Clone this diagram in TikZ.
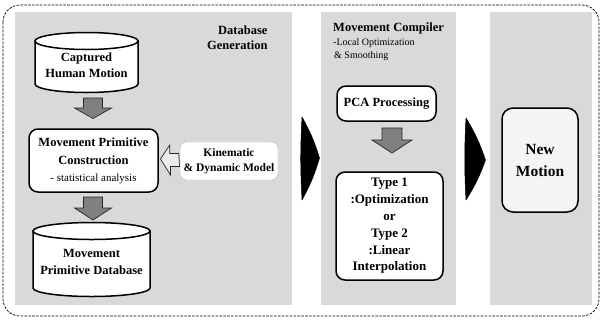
\documentclass[tikz,border=0pt]{standalone}
\usepackage{fontspec}
\setmainfont{Liberation Serif}
\usetikzlibrary{calc}
\tikzset{
  panel/.style={fill=black!15, draw=none},
  rbox/.style={draw=black, line width=1.5pt, rounded corners=9pt, fill=white, align=center, inner sep=2pt,
     font=\bfseries\fontsize{12.5}{16.5}\selectfont},
  cylbody/.style={draw=black, line width=1.5pt, fill=white},
  cyltext/.style={align=center, font=\bfseries\fontsize{12.5}{16.5}\selectfont},
  graybk/.style={fill=black!50, draw=black!85, line width=0.7pt},
  lightbk/.style={fill=black!8, draw=black!85, line width=0.7pt},
  blackbk/.style={fill=black, draw=black, line width=0.5pt, line join=round},
  title/.style={font=\bfseries\fontsize{12.5}{15.5}\selectfont},
  sub/.style={font=\fontsize{10}{13.5}\selectfont},
  outer/.style={draw=black, line width=0.7pt, dash pattern=on 2.6pt off 1.3pt, rounded corners=17pt}
}
\begin{document}
\begin{tikzpicture}[x=1pt,y=1pt]
\useasboundingbox (0,0) rectangle (602,-322);
% outer dashed frame
\draw[outer] (3,-5) rectangle (599,-316);
% panels
\fill[panel] (15,-12) rectangle (292,-305);
\fill[panel] (321,-12) rectangle (456,-305);
\fill[panel] (490,-12) rectangle (592,-305);

% Captured Human Motion cylinder
\path[cylbody] (35,-41) -- (35,-84) arc[start angle=180,end angle=360,x radius=51.5pt,y radius=8.5pt] -- (138,-41) -- cycle;
\draw[cylbody] (86.5,-41) ellipse[x radius=51.5pt,y radius=8.5pt];
\node[cyltext] (cap) at (86.5,-65) {Captured\\Human Motion};

% Movement primitive construction
\node[rbox, minimum width=129pt, minimum height=63pt] (mpc) at (93.5,-160.5) {};
\node[align=center, anchor=north, inner sep=0pt, font=\bfseries\fontsize{12.5}{18}\selectfont] (mpct) at (93.5,-137.5)
 {Movement Primitive\\Construction\\[-1pt]{\mdseries\fontsize{11}{14}\selectfont - statistical analysis}};

% Kinematic & Dynamic model
\node[fill=white, draw=black!25, line width=0.4pt, rounded corners=7pt, minimum width=98pt, minimum height=38pt,
      align=center, font=\bfseries\fontsize{11.5}{15}\selectfont] (kin) at (229,-161) {Kinematic\\\& Dynamic Model};

% Database cylinder
\path[cylbody] (33,-231) -- (33,-288) arc[start angle=180,end angle=360,x radius=58.5pt,y radius=8.5pt] -- (150,-231) -- cycle;
\draw[cylbody] (91.5,-231) ellipse[x radius=58.5pt,y radius=8.5pt];
\node[cyltext] (db) at (91.5,-262) {Movement\\Primitive Database};

% titles
\node[title, align=right, anchor=north east] (dbg) at (271,-22) {Database\\Generation};
\node[title, anchor=north west, inner sep=0pt] (mc) at (333,-23) {Movement Compiler};
\node[sub, anchor=north west, align=left, inner sep=0pt] (mcs) at (333,-38) {-Local Optimization\\\hspace{1pt}\& Smoothing};

% PCA and Type boxes
\node[rbox, minimum width=99pt, minimum height=35pt] (pca) at (386.5,-103.5) {PCA Processing};
\node[rbox, minimum width=107pt, minimum height=108pt, font=\bfseries\fontsize{13}{16.8}\selectfont] (typ) at (389.5,-226)
  {Type 1\\:Optimization\\or\\Type 2\\:Linear\\Interpolation};

% New motion
\node[rbox, fill=black!4, minimum width=76pt, minimum height=104pt, rounded corners=11pt,
      font=\bfseries\fontsize{15.5}{22}\selectfont] (nm) at (540,-160) {New\\Motion};

% gray block arrows (down)
\draw[graybk] (83.5,-98) -- (102.5,-98) -- (102.5,-108) -- (111.5,-108) -- (93,-118.5) -- (74.5,-108) -- (83.5,-108) -- cycle;
\draw[graybk] (83.5,-197) -- (102.5,-197) -- (102.5,-208) -- (111.5,-208) -- (93,-220) -- (74.5,-208) -- (83.5,-208) -- cycle;
\draw[graybk] (382,-128) -- (402,-128) -- (402,-140) -- (412,-140) -- (392,-153) -- (372,-140) -- (382,-140) -- cycle;
% left block arrow from kin to mpc
\draw[lightbk] (kin.west) ++(-1,7.5) -- ++(-9,0) -- ++(0,8.5) -- (160.5,-159) -- (170.5,-175) -- ++(0,8.5) -- ++(9,0) -- cycle;

% black arrows
\path[blackbk] (302,-117) to[bend left=6] (319.5,-158) to[bend left=6] (302,-200) to[bend left=3] cycle;
\path[blackbk] (466,-118) to[bend left=6] (485.5,-160) to[bend left=6] (466,-200) to[bend left=3] cycle;
\end{tikzpicture}
\end{document}
